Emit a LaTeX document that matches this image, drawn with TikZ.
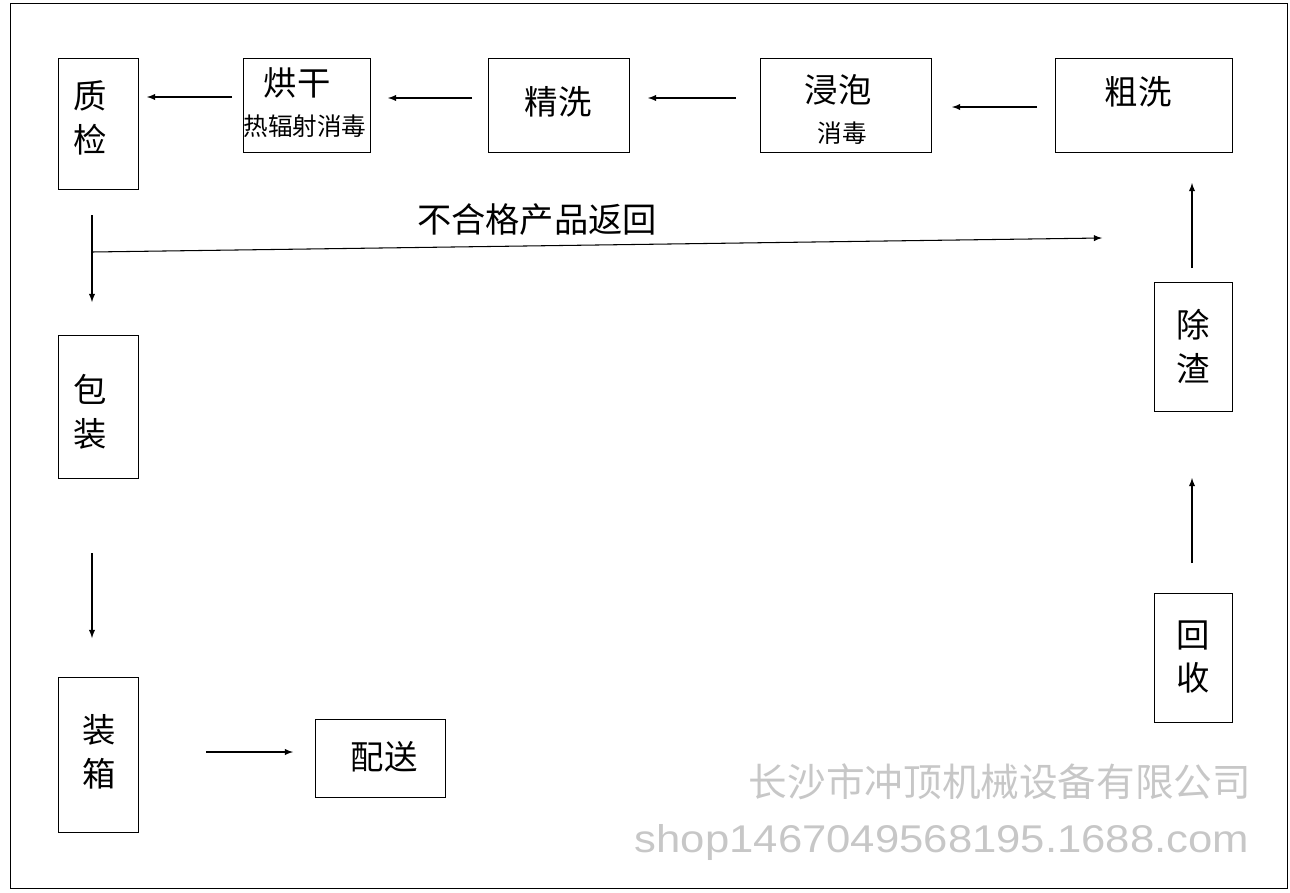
\documentclass[tikz,border=0pt]{standalone}
\usepackage{fontspec}
\setmainfont{Liberation Sans}
\newfontfamily\cjk{Noto Sans CJK SC}
\usetikzlibrary{calc}
\begin{document}
\begin{tikzpicture}[
    x=0.02cm, y=-0.02cm,
    box/.style={draw, thin},
    lbl/.style={font=\cjk\fontsize{19}{23}\selectfont, align=center},
    small/.style={font=\cjk\fontsize{14}{16}\selectfont},
    flow/.style={semithick, ->, >=latex},
    wmark/.style={color=black!22, font=\fontsize{22}{26}\selectfont}
    ]
    \useasboundingbox (0,0) rectangle (1290,892);
    % frame
    \draw[thin] (10,3) rectangle (1287,888);
    % Boxes
    \draw[box] (58,58) rectangle (138,189) coordinate (zj);
    \node[lbl] (zjt) at (90,118) {质\\[2pt]检};
    \draw[box] (243,58) rectangle (370,152);
    \node[lbl] (hg) at (297,83) {烘干};
    \node[small] (hgs) at (305,126) {热辐射消毒};
    \draw[box] (488,58) rectangle (629,152);
    \node[lbl] (jx) at (558,102) {精洗};
    \draw[box] (760,58) rectangle (931,152);
    \node[lbl] (jp) at (838,90) {浸泡};
    \node[small] (jps) at (842,133) {消毒};
    \draw[box] (1055,58) rectangle (1232,152);
    \node[lbl] (cx) at (1138,92) {粗洗};
    \draw[box] (1154,282) rectangle (1232,411);
    \node[lbl] (cz) at (1193,346) {除\\[2pt]渣};
    \draw[box] (1154,593) rectangle (1232,722);
    \node[lbl] (hs) at (1193,657) {回\\[2pt]收};
    \draw[box] (58,335) rectangle (138,478);
    \node[lbl] (bz) at (90,412) {包\\[2pt]装};
    \draw[box] (58,677) rectangle (138,832);
    \node[lbl] (zx) at (99,752) {装\\[2pt]箱};
    \draw[box] (315,719) rectangle (445,797);
    \node[lbl] (ps) at (384,757) {配送};
    % Arrows
    \coordinate (a1) at (232,97);  \coordinate (b1) at (147,97);
    \coordinate (a2) at (472,98);  \coordinate (b2) at (388,98);
    \coordinate (a3) at (736,98);  \coordinate (b3) at (648,98);
    \coordinate (a4) at (1037,107); \coordinate (b4) at (952,107);
    \coordinate (a5) at (1192,268); \coordinate (b5) at (1192,183);
    \coordinate (a6) at (1192,563); \coordinate (b6) at (1192,478);
    \coordinate (a7) at (92,215);  \coordinate (b7) at (92,302);
    \coordinate (a8) at (92,553);  \coordinate (b8) at (92,638);
    \coordinate (a9) at (206,752); \coordinate (b9) at (293,752);
    \coordinate (r0) at (92,252);  \coordinate (r1) at (1102,238);
    \foreach \i in {1,...,9} \draw[flow] (a\i) -- (b\i);
    \draw[flow] (r0) -- (r1);
    \node[lbl, font=\cjk\fontsize{19.5}{23}\selectfont] (back) at (537,220) {不合格产品返回};
    % Watermark
    \node[wmark, font=\cjk\fontsize{22}{26}\selectfont] (wm1) at (1000,782) {长沙市冲顶机械设备有限公司};
    \node[wmark, xscale=1.13] (wm2) at (942,842) {shop1467049568195.1688.com};
\end{tikzpicture}
\end{document}
